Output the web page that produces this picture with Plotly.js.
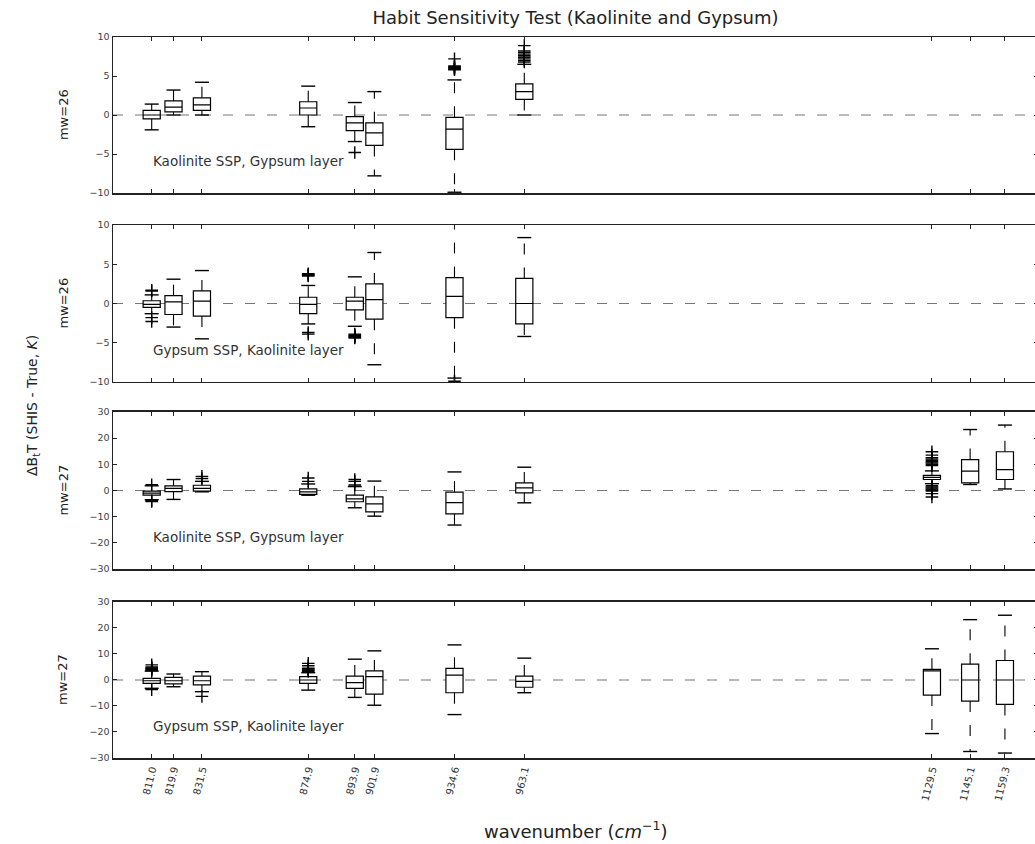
<!DOCTYPE html>
<html><head><meta charset="utf-8">
<script src="https://cdn.plot.ly/plotly-3.0.1.min.js"></script>
<style>html,body{margin:0;padding:0;overflow:hidden;background:#fff}#chart{width:1040px;height:844px}</style>
</head><body><div id="chart"></div>
<script>
// ---------- data ----------
const wavenumbers = [811.0, 819.9, 831.5, 874.9, 893.9, 901.9, 934.6, 963.1, 1129.5, 1145.1, 1159.3];
const tickLabels = ["811.0","819.9","831.5","874.9","893.9","901.9","934.6","963.1","1129.5","1145.1","1159.3"];
const panelTitles = ["mw=26", "mw=26", "mw=27", "mw=27"];
const panelNotes = ["Kaolinite SSP, Gypsum layer", "Gypsum SSP, Kaolinite layer",
                    "Kaolinite SSP, Gypsum layer", "Gypsum SSP, Kaolinite layer"];

// Panel 1 (mw=26, Kaolinite SSP, Gypsum layer) — first 8 channels
const p1Q1  = [-0.5, 0.4, 0.6, 0.0, -2.0, -3.9, -4.4, 2.0];
const p1Med = [ 0.0, 1.0, 1.3, 0.9, -1.0, -2.3, -1.8, 3.0];
const p1Q3  = [ 0.6, 1.8, 2.2, 1.7, -0.2, -1.0, -0.3, 4.0];
const p1Lo  = [-1.9, 0.0, 0.0, -1.5, -3.4, -7.8, -9.9, 0.0];
const p1Hi  = [ 1.4, 3.2, 4.2, 3.7, 1.6, 3.0, 4.5, 6.5];
const p1FlierX = [893.9, 934.6, 934.6, 934.6, 934.6, 934.6, 934.6, 934.6,
                  963.1, 963.1, 963.1, 963.1, 963.1, 963.1, 963.1, 963.1, 963.1];
const p1FlierY = [-4.8, 5.8, 5.9, 6.0, 6.1, 6.2, 6.3, 7.2,
                  6.8, 7.0, 7.2, 7.4, 7.6, 7.8, 8.0, 8.2, 8.9];

// Panel 2 (mw=26, Gypsum SSP, Kaolinite layer)
const p2Q1  = [-0.5, -1.4, -1.6, -1.3, -0.8, -2.0, -1.8, -2.6];
const p2Med = [-0.1,  0.2,  0.3, -0.1,  0.3,  0.5,  0.9,  0.0];
const p2Q3  = [ 0.35, 1.0,  1.6,  0.8,  0.8,  2.5,  3.3,  3.2];
const p2Lo  = [-1.3, -3.0, -4.5, -2.6, -2.9, -7.8, -9.5, -4.2];
const p2Hi  = [ 1.1,  3.1,  4.2,  2.3,  3.4,  6.5, 11.0,  8.4];
const p2FlierX = [811.0, 811.0, 811.0, 811.0, 874.9, 874.9, 874.9, 874.9, 874.9, 874.9,
                  893.9, 893.9, 893.9, 893.9, 893.9, 893.9, 934.6, 934.6];
const p2FlierY = [1.6, 1.7, -1.8, -2.3, 3.5, 3.6, 3.7, 3.8, -3.7, -3.9,
                  -3.9, -4.0, -4.1, -4.2, -4.3, -4.4, -9.9, -10.1];

// Panel 3 (mw=27, Kaolinite SSP, Gypsum layer) — all 11 channels
const p3Q1  = [-1.8, -0.4, -0.2, -1.5, -4.3, -8.2, -8.9, -0.9, 4.2,  2.9,  4.2];
const p3Med = [-1.0,  0.8,  0.8, -0.5, -3.2, -5.1, -4.6,  1.0, 5.0,  7.4,  8.0];
const p3Q3  = [-0.2,  1.8,  2.0,  0.6, -1.8, -2.4, -0.6,  2.9, 5.8, 11.8, 14.8];
const p3Lo  = [-3.5, -3.4, -0.5, -1.8, -6.6, -9.8, -13.2, -4.7, 2.6, 2.3,  0.6];
const p3Hi  = [ 1.8,  4.2,  3.5,  2.5,  1.5,  3.6,  7.1,  8.9, 7.5, 23.3, 25.0];
const p3FlierX = [811.0, 811.0, 811.0, 831.5, 831.5, 874.9, 874.9, 893.9, 893.9, 893.9,
                  1129.5, 1129.5, 1129.5, 1129.5, 1129.5, 1129.5, 1129.5, 1129.5, 1129.5,
                  1129.5, 1129.5, 1129.5, 1129.5, 1129.5, 1129.5, 1129.5, 1129.5];
const p3FlierY = [2.2, -3.9, -4.2, 4.6, 5.4, 3.5, 4.8, 2.1, 3.5, 4.2,
                  9.5, 10.0, 10.5, 11.0, 11.5, 12.0, 12.5, 13.5, 14.8,
                  1.8, 1.4, 1.0, 0.6, 0.2, -0.2, -1.2, -2.5];

// Panel 4 (mw=27, Gypsum SSP, Kaolinite layer)
const p4Q1  = [-1.3, -1.5, -1.9, -1.3, -3.2, -5.4, -4.9, -2.8, -5.8, -8.1, -9.4];
const p4Med = [-0.3, -0.3, -0.3,  0.0, -1.0,  1.3,  1.9, -0.5,  3.5,  0.0,  0.0];
const p4Q3  = [ 0.6,  1.0,  1.5,  1.3,  1.5,  3.5,  4.5,  1.5,  4.1,  6.1,  7.5];
const p4Lo  = [-3.2, -2.6, -4.5, -3.9, -6.7, -9.7, -13.3, -4.9, -20.6, -27.5, -28.1];
const p4Hi  = [ 3.4,  2.3,  3.2,  2.8,  8.0, 11.2, 13.5,  8.4, 12.0, 23.2, 24.9];
const p4FlierX = [811.0, 811.0, 811.0, 811.0, 811.0, 811.0, 811.0, 831.5,
                  874.9, 874.9, 874.9, 874.9, 874.9, 874.9, 874.9];
const p4FlierY = [3.7, 4.0, 4.3, 4.6, 5.0, 5.8, -3.7, -6.3,
                  3.3, 3.6, 3.9, 4.2, 4.5, 5.5, 6.4];

// ---------- build ----------
const panels = [
  {q1:p1Q1, med:p1Med, q3:p1Q3, lo:p1Lo, hi:p1Hi, fx:p1FlierX, fy:p1FlierY},
  {q1:p2Q1, med:p2Med, q3:p2Q3, lo:p2Lo, hi:p2Hi, fx:p2FlierX, fy:p2FlierY},
  {q1:p3Q1, med:p3Med, q3:p3Q3, lo:p3Lo, hi:p3Hi, fx:p3FlierX, fy:p3FlierY},
  {q1:p4Q1, med:p4Med, q3:p4Q3, lo:p4Lo, hi:p4Hi, fx:p4FlierX, fy:p4FlierY}
];

const traces = [];
panels.forEach((p, i) => {
  const xa = i === 0 ? 'x' : 'x' + (i + 1);
  const ya = i === 0 ? 'y' : 'y' + (i + 1);
  const xs = wavenumbers.slice(0, p.q1.length);
  const wx = [], wy = [];
  xs.forEach((x, k) => {
    wx.push(x, x, null, x, x, null);
    wy.push(p.q3[k], p.hi[k], null, p.q1[k], p.lo[k], null);
  });
  traces.push({type:'scatter', mode:'lines', x:wx, y:wy, xaxis:xa, yaxis:ya,
    line:{color:'#000', width:1.1, dash:'11px,13px'}, hoverinfo:'skip', showlegend:false});
  traces.push({type:'box', x:xs, q1:p.q1, median:p.med, q3:p.q3,
    lowerfence:p.q1, upperfence:p.q3, width:7, whiskerwidth:0,
    boxpoints:false, fillcolor:'#ffffff', line:{color:'#000', width:1.2},
    xaxis:xa, yaxis:ya, showlegend:false});
  const cx = [], cy = [];
  xs.forEach((x, k) => { cx.push(x, x); cy.push(p.hi[k], p.lo[k]); });
  traces.push({type:'scatter', mode:'markers', x:cx, y:cy, xaxis:xa, yaxis:ya,
    marker:{symbol:'line-ew', size:10, line:{color:'#000', width:1.4}},
    hoverinfo:'skip', showlegend:false});
  traces.push({type:'scatter', mode:'markers', x:p.fx, y:p.fy, xaxis:xa, yaxis:ya,
    marker:{symbol:'cross-thin', size:9, line:{color:'#000', width:1.4}},
    hoverinfo:'skip', showlegend:false});
});

const domains = [[0.7836, 1], [0.5215, 0.7392], [0.2621, 0.4799], [0, 0.2164]];
const yRanges = [[-10, 10], [-10, 10], [-30, 30], [-30, 30]];
const yDticks = [5, 5, 10, 10];
const xRange = [795.2, 1172.8];

const layout = {
  width: 1040, height: 844,
  margin: {l: 113, r: 2, t: 37, b: 86},
  paper_bgcolor: '#fff', plot_bgcolor: '#fff',
  font: {family: 'DejaVu Sans', color: '#222'},
  showlegend: false,
  title: {text: 'Habit Sensitivity Test (Kaolinite and Gypsum)', font: {size: 18, color: '#222'},
          x: 0.5, xref: 'paper', y: 1 - 18/844, yref: 'container', yanchor: 'middle'},
  shapes: [], annotations: []
};

for (let i = 0; i < 4; i++) {
  const xk = i === 0 ? 'xaxis' : 'xaxis' + (i + 1);
  const yk = i === 0 ? 'yaxis' : 'yaxis' + (i + 1);
  const yid = i === 0 ? 'y' : 'y' + (i + 1);
  const xid = i === 0 ? 'x' : 'x' + (i + 1);
  layout[xk] = {
    domain: [0, 1], range: xRange, anchor: yid,
    tickmode: 'array', tickvals: wavenumbers, ticktext: tickLabels,
    showticklabels: i === 3, tickangle: -76, tickfont: {size: 10, color: '#333'},
    ticks: 'inside', ticklen: 4, tickcolor: '#222', mirror: 'allticks',
    showline: true, linecolor: '#222', linewidth: 1.5, showgrid: false, zeroline: false
  };
  layout[yk] = {
    domain: domains[i], range: yRanges[i], anchor: xid, dtick: yDticks[i], tick0: 0,
    tickfont: {size: 9.5, color: '#444'},
    ticks: 'inside', ticklen: 4, tickcolor: '#222', mirror: 'allticks',
    showline: true, linecolor: '#222', linewidth: 1.5, showgrid: false, zeroline: false
  };
  layout.shapes.push({type: 'line', layer: 'below', xref: xid + ' domain', yref: yid,
    x0: 0, x1: 1, y0: 0, y1: 0, line: {color: '#777', width: 1.2, dash: '10px,12px'}});
  layout.annotations.push({text: panelTitles[i], xref: 'paper', yref: yid + ' domain',
    x: -0.054, y: 0.5, xanchor: 'center', yanchor: 'middle', textangle: -90,
    showarrow: false, font: {size: 13, color: '#222'}});
  layout.annotations.push({text: panelNotes[i], xref: xid + ' domain', yref: yid + ' domain',
    x: 0.041, y: 0.205, xanchor: 'left', yanchor: 'middle',
    showarrow: false, font: {size: 13.5, color: '#333'}});
}
layout.annotations.push({text: 'ΔB<sub>t</sub>T (SHIS - True, <i>K</i>)', xref: 'paper', yref: 'paper',
  x: -0.0865, y: 0.4896, xanchor: 'center', yanchor: 'middle', textangle: -90,
  showarrow: false, font: {size: 14, color: '#222'}});
layout.annotations.push({text: 'wavenumber (<i>cm</i><sup>−1</sup>)', xref: 'paper', yref: 'paper',
  x: 0.5, y: -0.0999, xanchor: 'center', yanchor: 'middle',
  showarrow: false, font: {size: 18, color: '#222'}});

Plotly.newPlot('chart', traces, layout, {staticPlot: true, displayModeBar: false});
</script></body></html>
